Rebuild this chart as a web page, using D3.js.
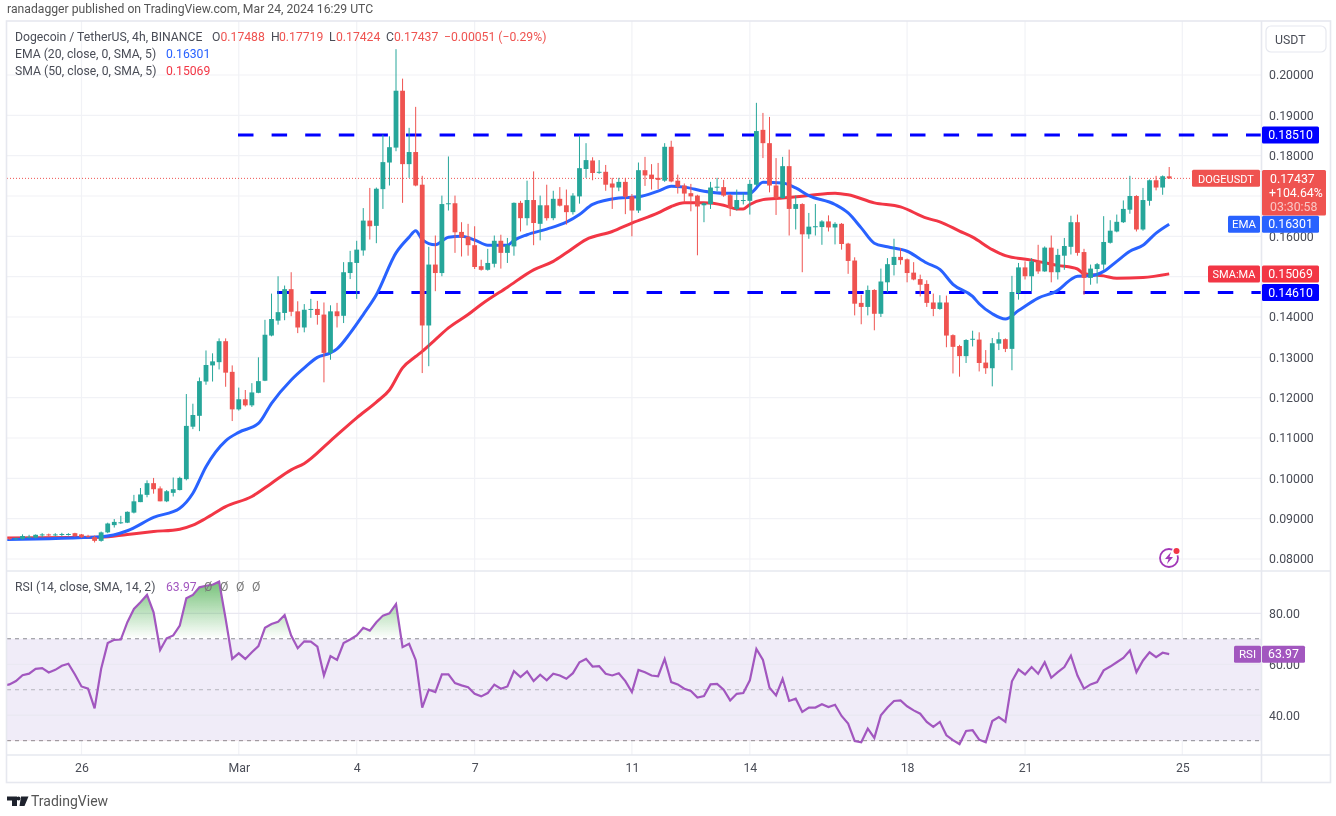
<!DOCTYPE html>
<html>
<head>
<meta charset="utf-8" />
<title>DOGEUSDT 4h</title>
<script src="https://cdn.jsdelivr.net/npm/d3@7/dist/d3.min.js"></script>
<style>
  html, body { margin: 0; padding: 0; background: #fff; }
  svg { display: block; filter: blur(.35px); }
  text { font-family: Roboto, sans-serif; }
</style>
</head>
<body>
<svg width="1336" height="816"></svg>
<script>
// 4h candles, first one is Feb 24 00:00 UTC
var open = [
  .0851,.0852,.0850,.0850,.0854,.0853,.0860,.0861,.0860,.0861,
  .0860,.0864,.0861,.0857,.0854,.0845,
  .0866,.0884,.0890,.0890,.0915,.0941,.0959,.0988,.0975,.0943,
  .0964,.0971,.0998,.1128,.1155,.1240,.1280,.1288,.1340,.1264,
  .1171,.1196,.1181,.1212,.1242,.1354,.1391,.1410,.1469,.1414,
  .1374,.1419,.1420,.1406,.1311,.1414,.1403,.1509,.1534,.1565,
  .1639,.1626,.1717,.1783,.1820,.1961,.1779,.1809,.1728,.1379,
  .1530,.1509,.1681,.1682,.1611,.1599,.1578,.1526,.1517,.1532,
  .1589,.1559,.1575,.1683,.1645,.1690,.1631,.1677,.1645,.1693,
  .1677,.1660,.1699,.1767,.1788,.1758,.1760,.1731,.1721,.1735,
  .1699,.1664,.1764,.1753,.1745,.1738,.1822,.1738,.1726,.1707,
  .1701,.1677,.1680,.1722,.1722,.1702,.1668,.1689,.1688,.1728,
  .1864,.1831,.1726,.1695,.1774,.1668,.1680,.1605,.1624,.1623,
  .1637,.1622,.1631,.1582,.1540,.1435,.1425,.1467,.1408,.1486,
  .1529,.1549,.1543,.1510,.1494,.1482,.1436,.1420,.1436,.1355,
  .1328,.1303,.1345,.1344,.1287,.1273,.1334,.1345,.1321,.1459,
  .1523,.1501,.1538,.1513,.1572,.1511,.1552,.1574,.1635,.1561,
  .1497,.1519,.1530,.1584,.1612,.1635,.1666,.1700,.1617,.1688,
  .1739,.1721,.17488
];
var close = [
  .0850,.0849,.0851,.0857,.0855,.0860,.0861,.0860,.0861,.0862,
  .0862,.0857,.0854,.0856,.0845,.0866,
  .0888,.0892,.0891,.0917,.0943,.0960,.0988,.0973,.0943,.0968,
  .0973,.1001,.1130,.1157,.1241,.1281,.1290,.1340,.1262,.1171,
  .1196,.1181,.1213,.1241,.1356,.1395,.1412,.1469,.1413,.1374,
  .1418,.1420,.1405,.1311,.1414,.1402,.1511,.1536,.1567,.1639,
  .1625,.1718,.1784,.1821,.1961,.1779,.1809,.1726,.1379,.1530,
  .1509,.1680,.1682,.1610,.1597,.1578,.1524,.1517,.1534,.1589,
  .1559,.1578,.1683,.1645,.1690,.1633,.1677,.1645,.1693,.1676,
  .1660,.1701,.1769,.1789,.1757,.1760,.1728,.1721,.1735,.1698,
  .1664,.1764,.1751,.1742,.1740,.1822,.1736,.1723,.1706,.1699,
  .1674,.1682,.1721,.1723,.1701,.1670,.1690,.1690,.1730,.1861,
  .1831,.1726,.1695,.1774,.1668,.1680,.1605,.1624,.1625,.1637,
  .1622,.1631,.1581,.1539,.1433,.1425,.1467,.1408,.1488,.1531,
  .1549,.1541,.1509,.1493,.1480,.1435,.1420,.1436,.1354,.1326,
  .1303,.1343,.1346,.1286,.1273,.1335,.1345,.1321,.1462,.1523,
  .1501,.1538,.1513,.1572,.1511,.1554,.1576,.1635,.1559,.1497,
  .1520,.1531,.1586,.1614,.1636,.1668,.1700,.1617,.1690,.1739,
  .1721,.1749,.17437
];
var high = [
  .0853,.0854,.0853,.0861,.0860,.0861,.0864,.0863,.0864,.0865,
  .0864,.0865,.0862,.0860,.0858,.0868,
  .0890,.0899,.0907,.0918,.0959,.0976,.0995,.1001,.0980,.0971,
  .1002,.1004,.1209,.1185,.1250,.1317,.1310,.1347,.1347,.1280,
  .1225,.1219,.1236,.1300,.1393,.1458,.1501,.1478,.1511,.1439,
  .1432,.1445,.1440,.1436,.1429,.1435,.1536,.1564,.1589,.1670,
  .1720,.1721,.1852,.1848,.2064,.1991,.1869,.1921,.1750,.1574,
  .1602,.1701,.1798,.1701,.1635,.1631,.1625,.1542,.1569,.1602,
  .1604,.1596,.1684,.1688,.1738,.1761,.1701,.1728,.1713,.1722,
  .1716,.1707,.1850,.1831,.1796,.1789,.1777,.1745,.1745,.1745,
  .1705,.1783,.1797,.1779,.1782,.1831,.1837,.1753,.1731,.1730,
  .1703,.1684,.1735,.1745,.1740,.1705,.1716,.1707,.1740,.1931,
  .1906,.1896,.1794,.1797,.1815,.1701,.1682,.1658,.1680,.1640,
  .1652,.1635,.1633,.1584,.1548,.1455,.1478,.1469,.1520,.1546,
  .1594,.1571,.1545,.1536,.1505,.1491,.1458,.1454,.1453,.1357,
  .1331,.1345,.1366,.1362,.1318,.1348,.1362,.1347,.1502,.1534,
  .1538,.1546,.1579,.1575,.1602,.1569,.1596,.1651,.1654,.1569,
  .1530,.1534,.1650,.1640,.1654,.1689,.1750,.1702,.1720,.1741,
  .1750,.1751,.17719
];
var low = [
  .0849,.0848,.0848,.0848,.0851,.0851,.0854,.0856,.0856,.0857,
  .0858,.0855,.0852,.0853,.0841,.0843,
  .0864,.0878,.0887,.0889,.0913,.0941,.0953,.0962,.0943,.0941,
  .0955,.0970,.0995,.1122,.1117,.1232,.1240,.1270,.1227,.1142,
  .1168,.1178,.1177,.1211,.1241,.1352,.1381,.1392,.1402,.1360,
  .1362,.1398,.1381,.1238,.1294,.1374,.1385,.1494,.1445,.1552,
  .1592,.1583,.1668,.1726,.1811,.1683,.1745,.1724,.1261,.1278,
  .1464,.1501,.1664,.1559,.1550,.1552,.1519,.1515,.1515,.1523,
  .1520,.1534,.1552,.1612,.1627,.1578,.1590,.1639,.1640,.1674,
  .1629,.1654,.1681,.1745,.1739,.1755,.1713,.1668,.1712,.1655,
  .1600,.1658,.1725,.1716,.1717,.1735,.1734,.1706,.1684,.1662,
  .1553,.1635,.1668,.1712,.1698,.1650,.1664,.1679,.1654,.1724,
  .1794,.1709,.1653,.1693,.1602,.1617,.1511,.1594,.1602,.1579,
  .1612,.1580,.1567,.1507,.1404,.1382,.1404,.1367,.1400,.1461,
  .1503,.1530,.1486,.1491,.1451,.1425,.1402,.1418,.1325,.1260,
  .1252,.1286,.1327,.1265,.1259,.1228,.1318,.1313,.1268,.1443,
  .1493,.1464,.1507,.1512,.1486,.1493,.1517,.1555,.1552,.1455,
  .1480,.1483,.1517,.1582,.1610,.1633,.1656,.1612,.1614,.1676,
  .1714,.1703,.17424
];
var rsi = [
  51.5,52.1,53.4,55.7,56.3,58.2,58.5,56.8,57.8,59.4,
  60.2,56,51.3,50.4,42.7,58.2,68.3,69.6,69.7,76.5,
  81.7,84.3,87.2,80.4,65.6,70.2,71.3,75.2,85.9,87.2,
  90.2,90.8,91.2,92.4,77.8,62.1,64.3,62.1,64.7,67.1,
  74.3,75.8,76.7,79.3,71.3,66.3,69,68.9,66.9,55.6,
  63.2,61.7,68.3,69.7,71.3,74.3,73.2,76.5,79.1,80,
  83.6,66.7,68,61.7,43,50,49.1,56,56,52.6,
  51.7,51,48.4,47.4,48.7,52,50.4,51.3,57.3,55,
  57.2,53.4,55.9,53.7,56.3,55.6,54.3,56.5,60.8,62.1,
  59.1,59.3,56.3,55.6,56.5,53.4,49.1,57.8,56.9,55.6,
  55.3,62.1,53,52.1,50.4,49.5,46.9,47.5,52.1,52.3,
  50,45.8,48.4,48.7,53.7,66,61.7,50.8,47.8,54.3,
  45.6,46.5,41.3,43,43,44.3,43.2,44.1,39.7,36.7,
  29.9,29.4,34.7,31.1,40,43,45.6,45.8,43.5,41.9,
  40.6,37.4,35.4,37.4,32.1,30.2,28.6,33.8,34.1,30.4,
  29.4,37.7,39.3,37.4,53.3,58,56,58.9,56.3,60.8,
  54.7,56.9,58.9,63.4,55.6,50.4,52.1,53,57.6,59.1,
  60.8,62.5,65.4,56.9,61.5,64.7,62.8,64.5,63.97
];

var emaBar = [0,15,19,23,27,29,31,34,36,39,41,44,46,48,50,51,53,55,57,60,62,63,64,66,68,70,72,74,77,78,80,83,86,88,90,94,97,100,102,104,107,110,114,116,119,121,123,127,129,131,133,135,138,141,143,145,148,149,151,153,155,158,161,163,164,166,168,170,172,174,176,178];
var emaVal = [.0848,.0855,.0870,.0903,.0926,.0963,.1029,.1093,.1114,.1136,.1186,.1244,.1274,.1300,.1311,.1321,.1360,.1406,.1455,.1559,.1598,.1614,.1592,.1579,.1598,.1600,.1591,.1578,.1578,.1590,.1604,.1618,.1635,.1654,.1679,.1695,.1698,.1712,.1724,.1722,.1712,.1707,.1707,.1734,.1732,.1720,.1701,.1679,.1658,.1621,.1583,.1574,.1563,.1534,.1518,.1481,.1451,.1433,.1408,.1395,.1416,.1447,.1466,.1493,.1501,.1502,.1513,.1538,.1563,.1578,.1608,.16301];
var smaBar = [0,15,19,23,27,29,31,34,38,41,44,46,50,54,57,59,61,63,64,66,68,71,73,77,81,84,86,89,93,96,100,102,104,107,110,112,113,114,116,119,123,127,129,133,137,141,143,146,148,151,153,157,161,164,165,168,170,174,178];
var smaVal = [.0852,.0854,.0861,.0868,.0874,.0884,.0901,.0930,.0955,.0988,.1021,.1037,.1093,.1150,.1189,.1219,.1274,.1302,.1315,.1344,.1373,.1406,.1431,.1474,.1517,.1538,.1559,.1592,.1612,.1633,.1658,.1674,.1683,.1683,.1677,.1668,.1668,.1679,.1691,.1695,.1701,.1707,.1703,.1683,.1673,.1645,.1636,.1613,.1598,.1567,.1552,.1541,.1528,.1519,.1507,.1502,.1496,.1498,.15069];

var priceTicks = [.08,.09,.10,.11,.12,.13,.14,.15,.16,.17,.18,.19,.20];
var hiddenPriceLabels = [.15,.17]; // covered by the tags in the original
var rsiTicks = [40,60,80];
var rsiLevels = [30,50,70];
var dateTicks = [[2024,1,26],[2024,2,1],[2024,2,4],[2024,2,7],[2024,2,11],[2024,2,14],[2024,2,18],[2024,2,21],[2024,2,25]];
var dateLabels = ["26","Mar","4","7","11","14","18","21","25"];
var resistance = 0.1851, support = 0.1461;
var lastClose = 0.17437, lastEma = 0.16301, lastSma = 0.15069, lastRsi = 63.97;

var upColor = "#26a69a", downColor = "#ef5350", emaColor = "#2962ff", smaColor = "#f23645",
    rsiColor = "#a257bf", gridColor = "#f1f2f6", frameColor = "#e6e8ef", textColor = "#4a4d57";

var paneL = 7, paneR = 1261.5, priceTop = 21, priceBottom = 571, rsiBottom = 755, frameBottom = 782.5, frameR = 1330.5;

var svg = d3.select("svg");
var defs = svg.append("defs");
defs.append("clipPath").attr("id","priceClip").append("rect")
  .attr("x",paneL).attr("y",priceTop).attr("width",paneR-paneL).attr("height",priceBottom-priceTop);
defs.append("clipPath").attr("id","rsiClip").append("rect")
  .attr("x",paneL).attr("y",priceBottom).attr("width",paneR-paneL).attr("height",rsiBottom-priceBottom);

var barTime = close.map((d,i) => d3.utcHour.offset(new Date(Date.UTC(2024,1,24)), i*4));
var tickDates = dateTicks.map(d => new Date(Date.UTC(d[0],d[1],d[2])));

var x = d3.scaleUtc().domain([tickDates[0],tickDates[tickDates.length-1]]).range([81.5,1182.3]);
var y = d3.scaleLinear().domain([.08,.20]).range([559,75]);
var yr = d3.scaleLinear().domain([30,80]).range([740.7,613.3]);

// grid
var grid = svg.append("g").attr("stroke",gridColor).attr("stroke-width",1.2);
grid.selectAll(".v").data(tickDates).enter().append("line")
  .attr("x1",d=>x(d)).attr("x2",d=>x(d)).attr("y1",priceTop).attr("y2",rsiBottom);
grid.selectAll(".h").data(priceTicks).enter().append("line")
  .attr("x1",paneL).attr("x2",paneR).attr("y1",d=>y(d)).attr("y2",d=>y(d));

// rsi band and grid go under the line
svg.append("rect").attr("x",paneL).attr("width",paneR-paneL)
  .attr("y",yr(70)).attr("height",yr(30)-yr(70)).attr("fill","#f0ecf8");
svg.append("g").attr("stroke","#e9e8f1").attr("stroke-width",1.2).selectAll("line").data(rsiTicks).enter().append("line")
  .attr("x1",paneL).attr("x2",paneR).attr("y1",d=>yr(d)).attr("y2",d=>yr(d));
svg.append("g").selectAll("line").data(rsiLevels).enter().append("line")
  .attr("x1",paneL).attr("x2",paneR).attr("y1",d=>yr(d)).attr("y2",d=>yr(d))
  .attr("stroke",d=>d==50?"#b5b5bd":"#8a8a92").attr("stroke-width",1).attr("stroke-dasharray","4 4");

// level lines
svg.append("g").attr("clip-path","url(#priceClip)").selectAll("line")
  .data([{v:resistance,from:238},{v:support,from:277}]).enter().append("line")
  .attr("x1",d=>d.from).attr("x2",paneR).attr("y1",d=>y(d.v)).attr("y2",d=>y(d.v))
  .attr("stroke","#0000ff").attr("stroke-width",3).attr("stroke-dasharray","15.5 18.1");

// last price dotted
svg.append("line").attr("x1",paneL).attr("x2",paneR).attr("y1",y(lastClose)).attr("y2",y(lastClose))
  .attr("stroke",downColor).attr("stroke-width",1).attr("stroke-dasharray","1 2");

// moving averages
var maLine = d3.line().x(d=>x(barTime[d[0]])).y(d=>y(d[1])).curve(d3.curveMonotoneX);
var priceG = svg.append("g").attr("clip-path","url(#priceClip)");
priceG.append("path").datum(d3.zip(smaBar,smaVal)).attr("d",maLine)
  .attr("fill","none").attr("stroke",smaColor).attr("stroke-width",3);
priceG.append("path").datum(d3.zip(emaBar,emaVal)).attr("d",maLine)
  .attr("fill","none").attr("stroke",emaColor).attr("stroke-width",3);

// candles
var barWidth = 4.8;
var bars = priceG.selectAll(".bar").data(close).enter().append("g");
var barCol = (d,i) => close[i] >= open[i] ? upColor : downColor;
bars.append("line")
  .attr("x1",(d,i)=>x(barTime[i])).attr("x2",(d,i)=>x(barTime[i]))
  .attr("y1",(d,i)=>y(high[i])).attr("y2",(d,i)=>y(low[i]))
  .attr("stroke",barCol).attr("stroke-width",1);
bars.append("rect")
  .attr("x",(d,i)=>x(barTime[i])-barWidth/2).attr("width",barWidth)
  .attr("y",(d,i)=>y(Math.max(open[i],close[i])))
  .attr("height",(d,i)=>Math.max(1,Math.abs(y(open[i])-y(close[i]))))
  .attr("fill",barCol);

// rsi overbought / oversold fill
var grad = defs.append("linearGradient").attr("id","obGrad").attr("gradientUnits","userSpaceOnUse")
  .attr("x1",0).attr("x2",0).attr("y1",yr(92)).attr("y2",yr(70));
grad.append("stop").attr("offset",0).attr("stop-color","#4caf50").attr("stop-opacity",.75);
grad.append("stop").attr("offset",1).attr("stop-color","#4caf50").attr("stop-opacity",0);
defs.append("clipPath").attr("id","obClip").append("rect")
  .attr("x",paneL).attr("y",priceBottom).attr("width",paneR-paneL).attr("height",yr(70)-priceBottom);
defs.append("clipPath").attr("id","osClip").append("rect")
  .attr("x",paneL).attr("y",yr(30)).attr("width",paneR-paneL).attr("height",rsiBottom-yr(30));
var rsiArea = level => d3.area().x((d,i)=>x(barTime[i])).y0(yr(level)).y1(d=>yr(d));
svg.append("path").datum(rsi).attr("d",rsiArea(70)).attr("fill","url(#obGrad)").attr("clip-path","url(#obClip)");
svg.append("path").datum(rsi).attr("d",rsiArea(30)).attr("fill","#ef5350").attr("fill-opacity",.25).attr("clip-path","url(#osClip)");
svg.append("path").datum(rsi).attr("clip-path","url(#rsiClip)")
  .attr("d",d3.line().x((d,i)=>x(barTime[i])).y(d=>yr(d)))
  .attr("fill","none").attr("stroke",rsiColor).attr("stroke-width",2.2);

// frame
var frame = svg.append("g").attr("stroke",frameColor).attr("stroke-width",1.6);
frame.append("rect").attr("x",paneL-.5).attr("y",priceTop).attr("width",frameR-paneL+.5).attr("height",frameBottom-priceTop).attr("fill","none");
[[paneL,frameR,priceBottom,priceBottom],[paneL,frameR,rsiBottom,rsiBottom],[paneR,paneR,priceTop,frameBottom]].forEach(l => {
  frame.append("line").attr("x1",l[0]).attr("x2",l[1]).attr("y1",l[2]).attr("y2",l[3]);
});

// axes
function styleAxis(g){
  g.select(".domain").remove();
  g.selectAll(".tick line").remove();
  g.selectAll("text").attr("fill",textColor).attr("font-size",12.3).attr("font-family","Roboto, sans-serif");
}
svg.append("g").attr("transform","translate(1261,0)")
  .call(d3.axisRight(y).tickValues(priceTicks.filter(d=>!hiddenPriceLabels.includes(d))).tickFormat(d3.format(".5f")).tickSize(0).tickPadding(8)).call(styleAxis);
svg.append("g").attr("transform","translate(1261,0)")
  .call(d3.axisRight(yr).tickValues(rsiTicks).tickFormat(d3.format(".2f")).tickSize(0).tickPadding(8)).call(styleAxis);
svg.append("g").attr("transform","translate(0,755)")
  .call(d3.axisBottom(x).tickValues(tickDates).tickFormat((d,i)=>dateLabels[i]).tickSize(0).tickPadding(8)).call(styleAxis);

// USDT button
svg.append("rect").attr("x",1266).attr("y",26).attr("width",60).attr("height",26).attr("rx",5)
  .attr("fill","#fff").attr("stroke",frameColor).attr("stroke-width",1.2);
svg.append("text").attr("x",1275).attr("y",44).attr("font-size",12.3).attr("fill",textColor).text("USDT");

// price tags on the axis
function tag(x0,w,cy,h,fill,label,size){
  svg.append("rect").attr("x",x0).attr("y",cy-h/2).attr("width",w).attr("height",h).attr("rx",1.5).attr("fill",fill);
  svg.append("text").attr("x",x0+w/2).attr("y",cy+4.3).attr("text-anchor","middle")
    .attr("font-size",size||12.3).attr("fill","#fff").text(label);
}
tag(1262,57,y(resistance),17,"#0000ff",d3.format(".5f")(resistance));
tag(1262,57,y(support),17,"#0000ff",d3.format(".5f")(support));
tag(1262,57,y(lastEma),17,emaColor,d3.format(".5f")(lastEma));
tag(1228,32,y(lastEma),17,emaColor,"EMA",11.5);
tag(1262,57,y(lastSma),17,smaColor,d3.format(".5f")(lastSma));
tag(1208,52,y(lastSma),17,smaColor,"SMA:MA",11);
tag(1192,68,y(lastClose),17,downColor,"DOGEUSDT",11);
svg.append("rect").attr("x",1262).attr("y",170).attr("width",64).attr("height",45.5).attr("rx",1.5).attr("fill",downColor);
svg.append("text").attr("x",1270).attr("y",y(lastClose)+4.3).attr("font-size",12.3).attr("fill","#fff").text(d3.format(".5f")(lastClose));
svg.append("text").attr("x",1269).attr("y",197).attr("font-size",12.3).attr("fill","#fff").text("+104.64%");
svg.append("text").attr("x",1270).attr("y",211).attr("font-size",12.3).attr("fill","#f9c6c5").text("03:30:58");
tag(1262,43,yr(lastRsi),17,rsiColor,d3.format(".2f")(lastRsi));
tag(1234,27,yr(lastRsi),17,rsiColor,"RSI",11.5);

// legend texts
function label(px,py,str,fill,size){
  return svg.append("text").attr("x",px).attr("y",py).attr("font-size",size||12.2).attr("fill",fill||textColor).text(str);
}
label(7,13,"ranadagger published on TradingView.com, Mar 24, 2024 16:29 UTC","#555");
label(15,41,"Dogecoin / TetherUS, 4h, BINANCE");
[[212,"O",220.5,"0.17488"],[271,"H",279,"0.17719"],[329,"L",336,"0.17424"],[386,"C",394,"0.17437"]].forEach(d => {
  label(d[0],41,d[1]);
  label(d[2],41,d[3],downColor);
});
label(444,41,"\u22120.00051 (\u22120.29%)",downColor);
label(15,58,"EMA (20, close, 0, SMA, 5)");
label(166,58,"0.16301",emaColor);
label(15,75,"SMA (50, close, 0, SMA, 5)");
label(166,75,"0.15069",smaColor);
label(15,591,"RSI (14, close, SMA, 14, 2)");
label(166,591,"63.97",rsiColor);
[204,220,236,252].forEach(px => label(px,591,"\u00d8","#777"));

// bolt icon
var bolt = svg.append("g").attr("transform","translate(1169,558)");
bolt.append("circle").attr("r",9).attr("fill","none").attr("stroke","#a238b8").attr("stroke-width",1.8);
bolt.append("path").attr("d","M2,-6 L-4,1 L-0.5,1 L-2,6 L4,-1 L0.5,-1 Z").attr("fill","#a238b8");
bolt.append("circle").attr("cx",7.5).attr("cy",-7).attr("r",4.5).attr("fill","#fff");
bolt.append("circle").attr("cx",7.5).attr("cy",-7).attr("r",3).attr("fill","#f23645");

// logo
svg.append("path").attr("d","M7,796.5 H17 V806 H12 V800.5 H7 Z M21,796.5 H28.5 L24.5,806 H19.5 Z").attr("fill","#1e222d");
svg.append("circle").attr("cx",18.5).attr("cy",798.5).attr("r",1.9).attr("fill","#1e222d");
label(31,806,"TradingView","#555",14);
</script>
</body>
</html>
